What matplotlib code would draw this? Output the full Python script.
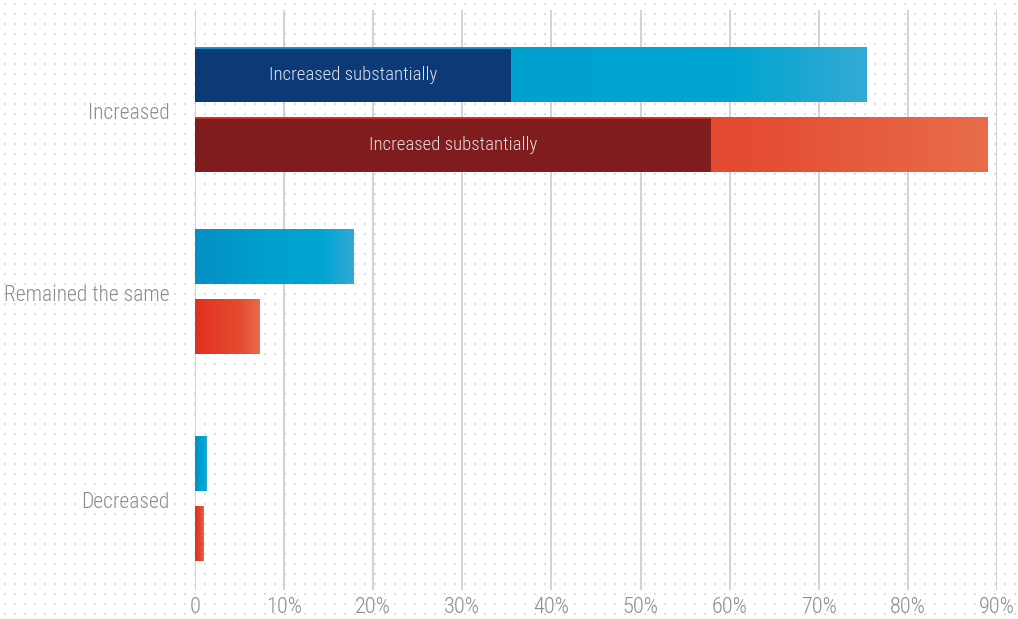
import numpy as np
import matplotlib
matplotlib.use("Agg")
from matplotlib import pyplot as plt
from matplotlib.colors import LinearSegmentedColormap

"""
Horizontal paired bars with gradient fills on a dotted background.
"""

# Data
CATEGORIES = ["Increased", "Remained the same", "Decreased"]
BLUE_TOTAL = [75.4, 17.8, 1.3]
RED_TOTAL = [88.9, 7.2, 0.9]
BLUE_SUBST = [35.5, 0, 0]
RED_SUBST = [57.9, 0, 0]
INNER_LABEL = "Increased substantially"
XTICKS = [0, 10, 20, 30, 40, 50, 60, 70, 80, 90]
XTICK_LABELS = ["0", "10%", "20%", "30%", "40%", "50%", "60%", "70%", "80%", "90%"]

# Layout / style
CAT_POS = [0, 1.0, 2.137]
BAR_H = 0.297
OFFSET = 0.192
W, H = 1018, 619
FONT = ["Roboto Condensed", "Roboto", "DejaVu Sans"]

blue_cmap = LinearSegmentedColormap.from_list(
    "b", [(0, "#0590c4"), (0.45, "#00a0cf"), (0.8, "#00a5d1"), (1, "#33aad4")])
red_cmap = LinearSegmentedColormap.from_list(
    "r", [(0, "#e0301f"), (0.5, "#e3452b"), (0.7, "#e44c31"), (1, "#e86c4b")])
DARK_BLUE = "#0b3a77"
DARK_RED = "#7e1c1e"


def gradient_bar(ax, x1, yc, cmap):
    # gradient spans the whole bar; the dark segment is drawn over it
    grad = np.linspace(0, 1, 256).reshape(1, -1)
    ax.imshow(grad, extent=[0, x1, yc + BAR_H / 2, yc - BAR_H / 2],
              aspect="auto", cmap=cmap, interpolation="bilinear", zorder=2)


def main():
    fig = plt.figure(figsize=(W / 100, H / 100), dpi=100)

    # Dotted background
    bg = fig.add_axes([0, 0, 1, 1])
    bg.set_xlim(0, W)
    bg.set_ylim(H, 0)
    bg.axis("off")
    xs, ys = np.meshgrid(np.arange(5, W, 10), np.arange(4, H, 10))
    bg.scatter(xs.ravel(), ys.ravel(), s=2.2, marker="s", color="#dcdce6",
               linewidths=0)

    ax = fig.add_axes([195 / W, 1 - 590 / H, (997 - 195) / W, 580 / H])
    ax.patch.set_alpha(0)
    ax.set_xlim(0, 90)
    ax.set_ylim(CAT_POS[-1] + 0.5, -0.549)

    for x in XTICKS:
        ax.axvline(x, color="#cfcfcf", lw=1.3, zorder=1)

    for i, yc in enumerate(CAT_POS):
        yb = yc - OFFSET
        yr = yc + OFFSET
        gradient_bar(ax, BLUE_TOTAL[i], yb, blue_cmap)
        gradient_bar(ax, RED_TOTAL[i], yr, red_cmap)
        if BLUE_SUBST[i] > 0:
            ax.barh(yb, BLUE_SUBST[i], height=BAR_H, color=DARK_BLUE, zorder=3)
            ax.plot([0, BLUE_SUBST[i]], [yb - BAR_H / 2] * 2, color="#1a9ad0",
                    lw=1.2, zorder=4, solid_capstyle="butt")
            ax.text(BLUE_SUBST[i] / 2, yb, INNER_LABEL, color="#dfe4ee",
                    ha="center", va="center", fontsize=13.5, family=FONT,
                    weight="light", zorder=5)
        if RED_SUBST[i] > 0:
            ax.barh(yr, RED_SUBST[i], height=BAR_H, color=DARK_RED, zorder=3)
            ax.plot([0, RED_SUBST[i]], [yr - BAR_H / 2] * 2, color="#d8321f",
                    lw=1.2, zorder=4, solid_capstyle="butt")
            ax.text(RED_SUBST[i] / 2, yr, INNER_LABEL, color="#eadcdc",
                    ha="center", va="center", fontsize=13.5, family=FONT,
                    weight="light", zorder=5)
        ax.text(-2.85, yc + 0.018, CATEGORIES[i], ha="right", va="center",
                fontsize=15.5, color="#8c8c8c", family=FONT, weight="light")

    ax.set_xticks(XTICKS)
    ax.set_xticklabels(XTICK_LABELS, fontsize=16, color="#8c8c8c",
                       family=FONT, weight="light")
    ax.tick_params(axis="x", length=0, pad=5)
    ax.set_yticks([])
    for s in ax.spines.values():
        s.set_visible(False)

    fig.savefig("out.png", dpi=100)


if __name__ == '__main__':
    main()
